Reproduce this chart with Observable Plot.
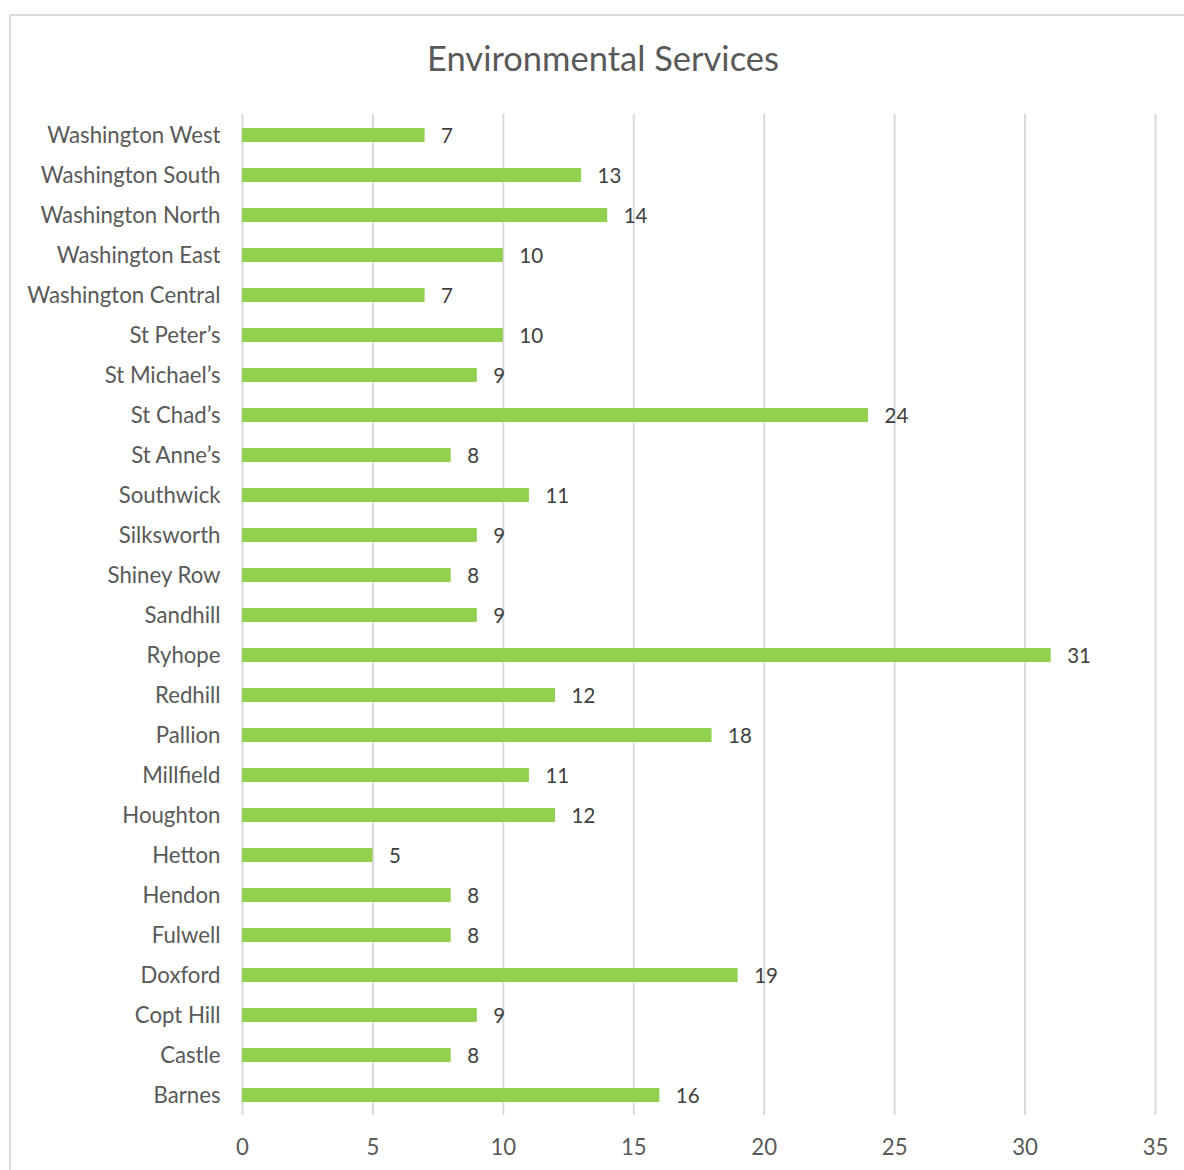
<!DOCTYPE html>
<html>
<head>
<meta charset="utf-8">
<script src="https://cdn.jsdelivr.net/npm/d3@7"></script>
<script src="https://cdn.jsdelivr.net/npm/@observablehq/plot@0.6"></script>
<style>
  html, body { margin: 0; padding: 0; background: #fff; }
  #wrap { position: relative; width: 1184px; height: 1170px; overflow: hidden; }
  #frame { position: absolute; left: 9px; top: 14px; width: 1200px; height: 1200px; border: 2px solid #d9d9d9; box-sizing: border-box; }
  #title { position: absolute; left: 0; width: 1206px; top: 37px; text-align: center; font-family: Lato, "Open Sans", sans-serif; font-size: 34.5px; color: #595959; margin: 0; font-weight: normal; line-height: 1.2; }
  #chart { position: absolute; left: 0; top: 0; }
</style>
</head>
<body>
<div id="wrap">
  <div id="frame"></div>
  <h2 id="title">Environmental Services</h2>
  <div id="chart"></div>
</div>
<script>
const wards = ["Washington West","Washington South","Washington North","Washington East","Washington Central","St Peter’s","St Michael’s","St Chad’s","St Anne’s","Southwick","Silksworth","Shiney Row","Sandhill","Ryhope","Redhill","Pallion","Millfield","Houghton","Hetton","Hendon","Fulwell","Doxford","Copt Hill","Castle","Barnes"];
const counts = [7,13,14,10,7,10,9,24,8,11,9,8,9,31,12,18,11,12,5,8,8,19,9,8,16];
const xTicks = [0,5,10,15,20,25,30,35];

const data = wards.map((w, i) => ({ward: w, value: counts[i]}));

const chart = Plot.plot({
  width: 1184,
  height: 1170,
  marginLeft: 242,
  marginRight: 29,
  marginTop: 114,
  marginBottom: 55,
  style: { fontFamily: "Lato, 'Open Sans', sans-serif", fontSize: "22.2px", color: "#595959", background: "transparent" },
  x: { domain: [0, 35], ticks: xTicks, label: null, tickSize: 0, tickPadding: 24 },
  y: { domain: wards, label: null, tickSize: 0, tickPadding: 22, paddingInner: 0.65, paddingOuter: 0.325 },
  marks: [
    Plot.gridX(xTicks, { stroke: "#d9d9d9", strokeWidth: 2, strokeOpacity: 1 }),
    Plot.barX(data, { x: "value", y: "ward", fill: "#92d050" }),
    Plot.text(data, { x: "value", y: "ward", text: d => String(d.value), textAnchor: "start", dx: 16, dy: 1, fill: "#404040", fontSize: 20.5 })
  ]
});
document.getElementById("chart").appendChild(chart);
</script>
</body>
</html>
